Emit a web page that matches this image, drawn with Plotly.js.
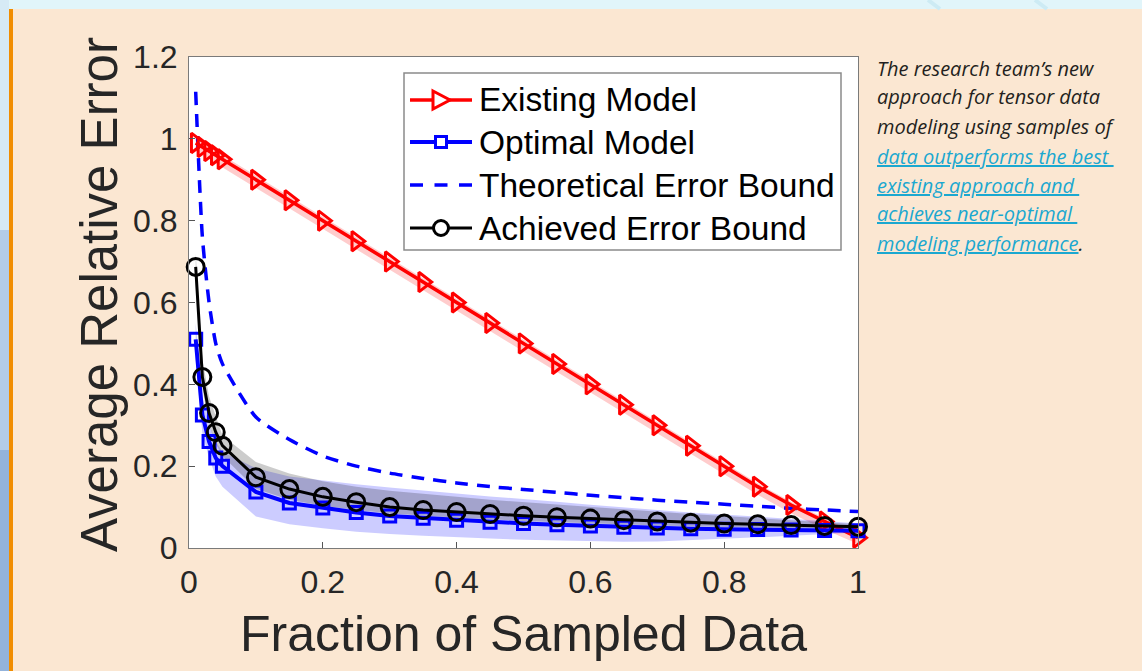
<!DOCTYPE html>
<html><head><meta charset="utf-8">
<script src="https://cdn.plot.ly/plotly-3.0.1.min.js"></script>
<style>html,body{margin:0;padding:0;background:#FBE7D2;} #chart{width:1142px;height:671px;}</style>
</head><body><div id="chart"></div>
<script>
// ---- data ----
const fraction = [0.01,0.02,0.03,0.04,0.05,0.1,0.15,0.2,0.25,0.3,0.35,0.4,0.45,0.5,0.55,0.6,0.65,0.7,0.75,0.8,0.85,0.9,0.95,1];
const existingModel = [0.99,0.98,0.97,0.96,0.95,0.90,0.85,0.80,0.75,0.70,0.65,0.60,0.55,0.50,0.45,0.40,0.35,0.30,0.25,0.20,0.15,0.105,0.065,0.025];
const existingUpper = [1.0,0.99,0.98,0.97,0.96,0.908,0.858,0.808,0.758,0.708,0.658,0.608,0.558,0.508,0.458,0.408,0.358,0.308,0.258,0.208,0.158,0.113,0.073,0.033];
const existingLower = [0.97,0.96,0.95,0.94,0.93,0.88,0.83,0.78,0.73,0.68,0.63,0.58,0.53,0.48,0.43,0.38,0.33,0.28,0.23,0.18,0.13,0.085,0.045,0.01];
const optimalModel = [0.51,0.325,0.26,0.22,0.20,0.137,0.11,0.098,0.087,0.078,0.073,0.068,0.063,0.06,0.057,0.054,0.051,0.049,0.047,0.046,0.045,0.044,0.043,0.042];
const optimalUpper = [0.55,0.37,0.30,0.26,0.235,0.195,0.175,0.165,0.156,0.148,0.14,0.133,0.126,0.12,0.113,0.106,0.099,0.093,0.087,0.082,0.077,0.072,0.066,0.06];
const optimalLower = [0.46,0.28,0.22,0.175,0.15,0.077,0.058,0.048,0.040,0.034,0.030,0.026,0.023,0.020,0.018,0.016,0.015,0.016,0.019,0.022,0.026,0.030,0.034,0.038];
const theoreticalBound = [1.115,0.76,0.60,0.50,0.45,0.32,0.265,0.225,0.20,0.183,0.17,0.159,0.15,0.143,0.136,0.129,0.123,0.117,0.112,0.107,0.102,0.097,0.093,0.089];
const achievedBound = [0.687,0.418,0.33,0.283,0.25,0.173,0.144,0.125,0.112,0.10,0.093,0.088,0.083,0.079,0.075,0.072,0.068,0.065,0.062,0.06,0.058,0.056,0.054,0.052];
const achievedUpper = [0.72,0.46,0.37,0.32,0.275,0.21,0.182,0.163,0.15,0.14,0.132,0.125,0.118,0.112,0.106,0.1,0.094,0.088,0.083,0.078,0.073,0.068,0.063,0.058];
const achievedLower = [0.64,0.39,0.30,0.255,0.225,0.145,0.118,0.103,0.093,0.085,0.079,0.074,0.07,0.066,0.063,0.06,0.057,0.055,0.053,0.051,0.05,0.049,0.048,0.047];
const seriesNames = ["Existing Model","Optimal Model","Theoretical Error Bound","Achieved Error Bound"];
const xTickVals = [0,0.2,0.4,0.6,0.8,1];
const xTickText = ["0","0.2","0.4","0.6","0.8","1"];
const yTickVals = [0,0.2,0.4,0.6,0.8,1,1.2];
const yTickText = ["0","0.2","0.4","0.6","0.8","1","1.2"];
const xTitle = "Fraction of Sampled Data";
const yTitle = "Average Relative Error";
const captionPlain = ["The research team\u2019s new","approach for tensor data","modeling using samples of"];
const captionLink = ["data outperforms the best ","existing approach and ","achieves near-optimal ","modeling performance"];

// ---- layout geometry (pixels) ----
const W=1142,H=671,L=189,R=858,T=57,B=548;
const px2x = p => (p-L)/(R-L);
const px2y = p => (B-p)/(B-T);
const FONT = "Arial, 'Liberation Sans', Helvetica, sans-serif";
const RED='#FF0000', BLUE='#0000FF', BLACK='#000000';

function band(lower, upper, color){
  return [
    {x:fraction,y:lower,mode:'lines',line:{width:0,color:color},showlegend:false,hoverinfo:'skip'},
    {x:fraction,y:upper,mode:'lines',line:{width:0,color:color},fill:'tonexty',fillcolor:color,showlegend:false,hoverinfo:'skip'}
  ];
}

const traces = [].concat(
  band(existingLower, existingUpper, 'rgba(255,0,0,0.2)'),
  band(optimalLower, optimalUpper, 'rgba(0,0,255,0.2)'),
  band(achievedLower, achievedUpper, 'rgba(0,0,0,0.2)'),
  [
    {x:fraction,y:theoreticalBound,name:seriesNames[2],mode:'lines',
     line:{color:BLUE,width:3.5,dash:'13px,9px',shape:'spline',smoothing:0.6}},
    {x:fraction,y:existingModel,name:seriesNames[0],mode:'lines+markers',cliponaxis:false,
     line:{color:RED,width:3.5},
     marker:{symbol:'triangle-right-open',size:17,color:RED,line:{width:3,color:RED}}},
    {x:fraction,y:optimalModel,name:seriesNames[1],mode:'lines+markers',cliponaxis:false,
     line:{color:BLUE,width:4},
     marker:{symbol:'square-open',size:12,color:BLUE,line:{width:3,color:BLUE}}},
    {x:fraction,y:achievedBound,name:seriesNames[3],mode:'lines+markers',cliponaxis:false,
     line:{color:BLACK,width:3},
     marker:{symbol:'circle-open',size:17,color:BLACK,line:{width:3,color:BLACK}}}
  ]
);

const P = (xp,yp) => px2x(xp)+','+px2y(yp);
const shapes = [
  {type:'rect',xref:'paper',yref:'paper',x0:px2x(0),x1:px2x(W),y0:px2y(9),y1:px2y(0),fillcolor:'#E1F5FA',line:{width:0},layer:'below'},
  {type:'line',xref:'paper',yref:'paper',x0:px2x(928),x1:px2x(940),y0:px2y(0),y1:px2y(9),line:{color:'#CDEBF4',width:4},layer:'below'},
  {type:'line',xref:'paper',yref:'paper',x0:px2x(1035),x1:px2x(1047),y0:px2y(0),y1:px2y(9),line:{color:'#CDEBF4',width:4},layer:'below'},
  {type:'rect',xref:'paper',yref:'paper',x0:px2x(0),x1:px2x(9),y0:px2y(230),y1:px2y(0),fillcolor:'#D6EAF5',line:{width:0},layer:'below'},
  {type:'rect',xref:'paper',yref:'paper',x0:px2x(0),x1:px2x(9),y0:px2y(450),y1:px2y(230),fillcolor:'#B3CCE8',line:{width:0},layer:'below'},
  {type:'rect',xref:'paper',yref:'paper',x0:px2x(0),x1:px2x(9),y0:px2y(H),y1:px2y(450),fillcolor:'#93B3DB',line:{width:0},layer:'below'},
  {type:'rect',xref:'paper',yref:'paper',x0:px2x(9),x1:px2x(13),y0:px2y(H),y1:px2y(9),fillcolor:'#F18D00',line:{width:0},layer:'below'},
  // legend box
  {type:'rect',xref:'paper',yref:'paper',x0:px2x(404),x1:px2x(841),y0:px2y(250),y1:px2y(73),fillcolor:'#FFFFFF',line:{color:'#8a8a8a',width:1.5},layer:'above'}
];

// legend entries (drawn as shapes + text)
const legRows = [100,142,185,228];
const legX0=410, legX1=472, legXm=441;
const rowY = i => legRows[i];
// Existing model
shapes.push({type:'line',xref:'paper',yref:'paper',x0:px2x(legX0),x1:px2x(legX1),y0:px2y(rowY(0)),y1:px2y(rowY(0)),line:{color:RED,width:3.5},layer:'above'});
shapes.push({type:'path',xref:'paper',yref:'paper',path:'M'+P(legXm-8,rowY(0)-9)+' L'+P(legXm+9,rowY(0))+' L'+P(legXm-8,rowY(0)+9)+' Z',fillcolor:'#FFFFFF',line:{color:RED,width:3},layer:'above'});
// Optimal model
shapes.push({type:'line',xref:'paper',yref:'paper',x0:px2x(legX0),x1:px2x(legX1),y0:px2y(rowY(1)),y1:px2y(rowY(1)),line:{color:BLUE,width:4},layer:'above'});
shapes.push({type:'rect',xref:'paper',yref:'paper',x0:px2x(legXm-5.5),x1:px2x(legXm+5.5),y0:px2y(rowY(1)+5.5),y1:px2y(rowY(1)-5.5),fillcolor:'#FFFFFF',line:{color:BLUE,width:3},layer:'above'});
// Theoretical bound
shapes.push({type:'line',xref:'paper',yref:'paper',x0:px2x(legX0),x1:px2x(legX1),y0:px2y(rowY(2)),y1:px2y(rowY(2)),line:{color:BLUE,width:3.5,dash:'13px,11.5px'},layer:'above'});
// Achieved bound
shapes.push({type:'line',xref:'paper',yref:'paper',x0:px2x(legX0),x1:px2x(legX1),y0:px2y(rowY(3)),y1:px2y(rowY(3)),line:{color:BLACK,width:3},layer:'above'});
shapes.push({type:'circle',xref:'paper',yref:'paper',x0:px2x(legXm-7.5),x1:px2x(legXm+7.5),y0:px2y(rowY(3)+7.5),y1:px2y(rowY(3)-7.5),fillcolor:'#FFFFFF',line:{color:BLACK,width:3},layer:'above'});

const annotations = [];
seriesNames.forEach((n,i)=>annotations.push({xref:'paper',yref:'paper',x:px2x(477),y:px2y(rowY(i)),xanchor:'left',yanchor:'middle',showarrow:false,
  text:n,font:{family:FONT,size:33.5,color:'#000000'}}));
const lineYs = [68,97,126,156,185,214,243];
captionPlain.forEach((t,i)=>annotations.push({xref:'paper',yref:'paper',x:px2x(875),y:px2y(lineYs[i]),xanchor:'left',yanchor:'middle',showarrow:false,
  text:'<i>'+t+'</i>',font:{family:"'Open Sans', sans-serif",size:20,color:'#231F20'}}));
captionLink.forEach((t,i)=>annotations.push({xref:'paper',yref:'paper',x:px2x(875),y:px2y(lineYs[i+3]),xanchor:'left',yanchor:'middle',showarrow:false,
  text:'<i><u>'+t+'</u>'+(i===captionLink.length-1?'<span style="color:#231F20">.</span>':'')+'</i>',font:{family:"'Open Sans', sans-serif",size:20,color:'#1BA8D0'}}));
annotations.push({xref:'paper',yref:'paper',x:px2x(99),y:px2y(295),xanchor:'center',yanchor:'middle',showarrow:false,textangle:-90,
  text:yTitle,font:{family:FONT,size:51,color:'#262626'}});

const axisCommon = {showgrid:false,zeroline:false,showline:true,mirror:true,linecolor:'#7a7a7a',linewidth:1,
  ticks:'inside',ticklen:6,tickcolor:'#555',tickwidth:1,tickfont:{family:FONT,size:32,color:'#262626'}};

const layout = {
  width:W,height:H,
  paper_bgcolor:'#FBE7D2',plot_bgcolor:'#FFFFFF',
  margin:{l:L,r:W-R,t:T,b:H-B,pad:0},
  showlegend:false,
  xaxis:Object.assign({},axisCommon,{range:[0,1],tickvals:xTickVals,ticktext:xTickText,ticklabelstandoff:6,
    title:{text:xTitle,font:{family:FONT,size:50,color:'#262626'},standoff:16}}),
  yaxis:Object.assign({},axisCommon,{range:[0,1.2],tickvals:yTickVals,ticktext:yTickText,ticklabelstandoff:4}),
  shapes:shapes,
  annotations:annotations
};

Plotly.newPlot('chart',traces,layout,{displayModeBar:false,staticPlot:true});
</script></body></html>
